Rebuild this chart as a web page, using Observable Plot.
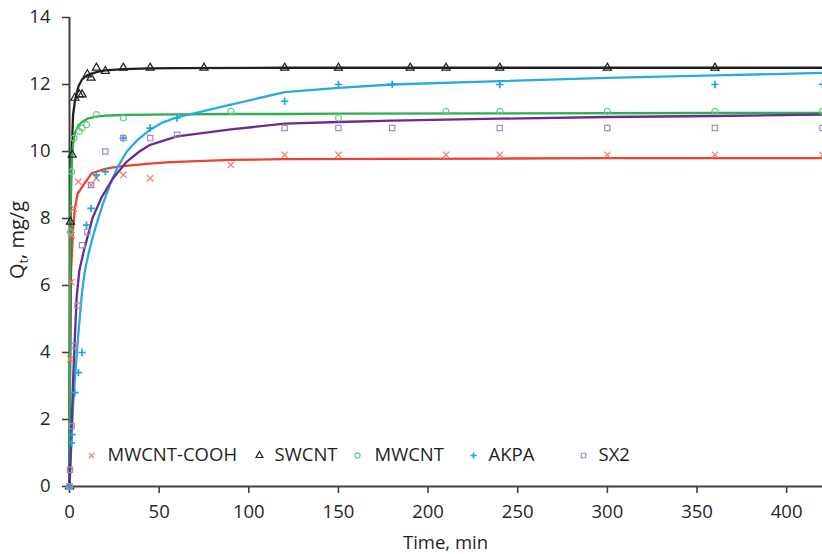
<!DOCTYPE html>
<html>
<head>
<meta charset="utf-8">
<script src="https://cdn.jsdelivr.net/npm/d3@7"></script>
<script src="https://cdn.jsdelivr.net/npm/@observablehq/plot@0.6"></script>
<style>
  body { margin: 0; background: #fff; }
  #chart { width: 822px; height: 554px; }
</style>
</head>
<body>
<div id="chart"></div>
<script>
// ---- Data ----
const seriesNames = ["MWCNT-COOH", "SWCNT", "MWCNT", "AKPA", "SX2"];
const xTicks = [0, 50, 100, 150, 200, 250, 300, 350, 400];
const yTicks = [0, 2, 4, 6, 8, 10, 12, 14];

// MWCNT-COOH (measured points)
const coohT = [0, 0.5, 1, 1.2, 2.5, 5, 12, 15, 30, 45, 90, 120, 150, 210, 240, 300, 360, 420];
const coohQ = [0, 3.8, 6.1, 7.5, 8.3, 9.1, 9.0, 9.2, 9.3, 9.2, 9.6, 9.9, 9.9, 9.9, 9.9, 9.9, 9.9, 9.9];
// MWCNT-COOH (fitted curve)
const coohFitT = [0, 0.3, 0.9, 2, 3, 4.5, 12.3, 20, 27, 43, 56, 90, 120, 180, 240, 300, 360, 420];
const coohFitQ = [0, 3.16, 6.45, 7.7, 8.3, 8.74, 9.35, 9.48, 9.55, 9.63, 9.68, 9.75, 9.77, 9.78, 9.79, 9.8, 9.8, 9.8];

// SWCNT
const swT = [0, 0.5, 1.5, 3, 5.5, 7, 10, 12, 15, 20, 30, 45, 75, 120, 150, 190, 210, 240, 300, 360];
const swQ = [0, 7.9, 9.9, 11.6, 11.7, 11.7, 12.3, 12.2, 12.5, 12.4, 12.5, 12.5, 12.5, 12.5, 12.5, 12.5, 12.5, 12.5, 12.5, 12.5];
const swFitT = [0, 0.5, 1, 2, 3, 5, 7, 10, 15, 20, 30, 45, 60, 120, 240, 420];
const swFitQ = [0, 7.5, 9.6, 11.1, 11.5, 11.95, 12.15, 12.28, 12.37, 12.42, 12.46, 12.48, 12.49, 12.5, 12.5, 12.5];

// MWCNT
const mwT = [0, 0.5, 1.2, 2.5, 5.5, 7, 9.5, 15, 30, 90, 150, 210, 240, 300, 360, 420];
const mwQ = [0, 7.6, 9.4, 10.4, 10.6, 10.7, 10.8, 11.1, 11.0, 11.2, 11.0, 11.2, 11.2, 11.2, 11.2, 11.2];
const mwFitT = [0, 0.5, 1, 2, 3, 5, 7, 10, 15, 20, 30, 45, 60, 90, 120, 150, 240, 360, 420];
const mwFitQ = [0, 8.0, 9.5, 10.2, 10.55, 10.78, 10.88, 10.98, 11.04, 11.07, 11.09, 11.1, 11.11, 11.12, 11.12, 11.13, 11.14, 11.15, 11.15];

// AKPA
const akT = [0, 1, 1.5, 3, 5, 7, 9.5, 12, 15, 20, 30, 45, 60, 120, 150, 180, 240, 360, 420];
const akQ = [0, 1.3, 1.55, 2.8, 3.4, 4.0, 7.8, 8.3, 9.3, 9.4, 10.4, 10.7, 11.0, 11.5, 12.0, 12.0, 12.0, 12.0, 12.0];
const akFitT = [0, 1, 2, 3, 5, 7, 8.6, 11, 14, 18, 22.5, 27, 32, 38, 45, 52, 60, 90, 120, 150, 180, 240, 300, 360, 420];
const akFitQ = [0, 1.2, 2.4, 3.2, 4.6, 5.8, 6.45, 7.04, 7.64, 8.34, 9.0, 9.55, 10.0, 10.35, 10.65, 10.87, 11.02, 11.4, 11.77, 11.9, 12.0, 12.1, 12.2, 12.27, 12.35];

// SX2
const sxT = [0, 0.3, 1.2, 2.7, 4.5, 7, 10, 12, 20, 30, 45, 60, 120, 150, 180, 240, 300, 360, 420];
const sxQ = [0, 0.5, 1.8, 4.2, 5.4, 7.2, 7.6, 9.0, 10.0, 10.4, 10.4, 10.5, 10.7, 10.7, 10.7, 10.7, 10.7, 10.7, 10.7];
const sxFitT = [0, 1, 2, 3, 4, 5.5, 8, 10.5, 13, 18, 24, 32, 39, 45, 60, 90, 120, 150, 180, 240, 300, 360, 420];
const sxFitQ = [0, 1.5, 3.16, 4.46, 5.65, 6.45, 7.04, 7.54, 8.04, 8.64, 9.18, 9.7, 10.0, 10.2, 10.45, 10.66, 10.83, 10.88, 10.92, 10.98, 11.03, 11.06, 11.1];

// ---- Build tidy tables ----
const rows = (name, ts, qs) => ts.map((t, i) => ({series: name, t, q: qs[i]}));
const points = [
  ...rows("MWCNT-COOH", coohT, coohQ),
  ...rows("SWCNT", swT, swQ),
  ...rows("MWCNT", mwT, mwQ),
  ...rows("AKPA", akT, akQ),
  ...rows("SX2", sxT, sxQ)
];
const fits = [
  ...rows("MWCNT-COOH", coohFitT, coohFitQ),
  ...rows("SWCNT", swFitT, swFitQ),
  ...rows("MWCNT", mwFitT, mwFitQ),
  ...rows("AKPA", akFitT, akFitQ),
  ...rows("SX2", sxFitT, sxFitQ)
];

const look = {
  "MWCNT-COOH": {line: "#ee4131", mark: "#f3796b", symbol: "times", r: 3, sw: 1.2},
  "SWCNT":      {line: "#231f20", mark: "#231f20", symbol: "triangle", r: 3, sw: 1.2},
  "MWCNT":      {line: "#2bb04f", mark: "#6cc985", symbol: "circle", r: 3, sw: 1.2},
  "AKPA":       {line: "#29abe2", mark: "#1fa3df", symbol: "plus", r: 2.5, sw: 1.7},
  "SX2":        {line: "#6a2d8f", mark: "#a58bc6", symbol: "square", r: 3, sw: 1.2}
};
const legendPos = {
  "MWCNT-COOH": [22, 38], "SWCNT": [190, 205], "MWCNT": [288, 305], "AKPA": [404, 419], "SX2": [514, 529]
};

const font = "'Open Sans', sans-serif";
const marks = [
  Plot.axisX({ticks: xTicks, tickSize: 7, tickPadding: 11, stroke: "#404040", strokeWidth: 1.6, fill: "#262626", label: null}),
  Plot.axisY({ticks: yTicks, tickSize: 7, tickPadding: 12, stroke: "#404040", strokeWidth: 1.6, fill: "#262626", label: null}),
  Plot.ruleX([0], {stroke: "#404040", strokeWidth: 2}),
  Plot.ruleY([0], {stroke: "#404040", strokeWidth: 2})
];
for (const name of seriesNames) {
  marks.push(Plot.line(fits.filter(d => d.series === name), {
    x: "t", y: "q", stroke: look[name].line, strokeWidth: 2.3, curve: "linear"
  }));
}
for (const name of seriesNames) {
  marks.push(Plot.dot(points.filter(d => d.series === name), {
    x: "t", y: "q", symbol: () => look[name].symbol, r: look[name].r, stroke: look[name].mark, fill: "none", strokeWidth: look[name].sw
  }));
}
for (const name of seriesNames) {
  const [sx, tx] = legendPos[name];
  marks.push(Plot.dot([name], {
    frameAnchor: "bottom-left", dx: sx, dy: -31, symbol: () => look[name].symbol, r: look[name].r * 0.85,
    stroke: look[name].mark, fill: "none", strokeWidth: look[name].sw
  }));
  marks.push(Plot.text([name], {
    frameAnchor: "bottom-left", dx: tx, dy: -31, text: d => d, textAnchor: "start",
    lineAnchor: "middle", fontSize: 18.5, fill: "#1f1f1f"
  }));
}

const chart = Plot.plot({
  width: 822,
  height: 554,
  marginLeft: 69,
  marginRight: 0,
  marginTop: 17,
  marginBottom: 68,
  style: {fontFamily: font, fontSize: "18.5px", background: "white", overflow: "hidden"},
  x: {domain: [0, 420], label: null},
  y: {domain: [0, 14], label: null},
  marks
});

const svg = d3.select(chart);
svg.append("text")
  .attr("x", 69 + (822 - 69) / 2)
  .attr("y", 549)
  .attr("text-anchor", "middle")
  .attr("font-size", 18.5)
  .attr("fill", "#1f1f1f")
  .text("Time, min");
const yl = svg.append("text")
  .attr("transform", "translate(24,240) rotate(-90)")
  .attr("text-anchor", "middle")
  .attr("font-size", 20)
  .attr("fill", "#1f1f1f");
yl.append("tspan").text("Q");
yl.append("tspan").attr("font-size", 13).attr("dy", 4).text("t");
yl.append("tspan").attr("dy", -4).text(", mg/g");

document.getElementById("chart").appendChild(chart);
</script>
</body>
</html>
